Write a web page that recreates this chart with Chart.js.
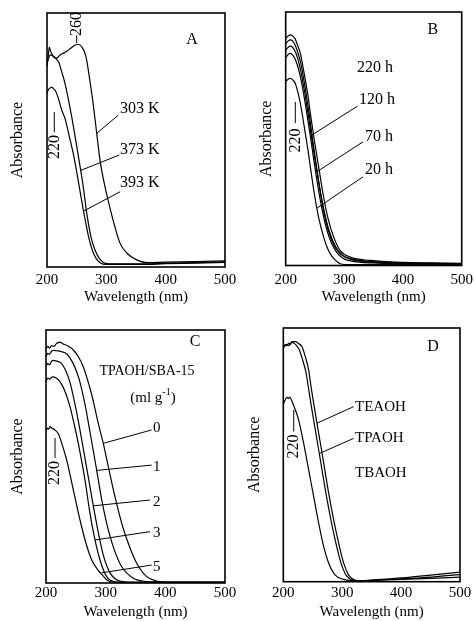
<!DOCTYPE html>
<html>
<head>
<meta charset="utf-8">
<script src="https://cdn.jsdelivr.net/npm/chart.js@4.4.1/dist/chart.umd.min.js"></script>
<style>
  html, body { margin: 0; padding: 0; background: #fff; }
  body { width: 474px; height: 621px; position: relative; overflow: hidden; }
  canvas { position: absolute; }
</style>
</head>
<body>
<canvas id="panelA" width="237" height="310" style="left:0;top:0"></canvas>
<canvas id="panelB" width="237" height="310" style="left:237px;top:0"></canvas>
<canvas id="panelC" width="237" height="311" style="left:0;top:310px"></canvas>
<canvas id="panelD" width="237" height="311" style="left:237px;top:310px"></canvas>
<script>
// [wavelength nm, absorbance]; absorbance in frame units (0 = bottom, 1 = top)

// A: synthesis temperature
const a303 = [[200,0.80],[203,0.825],[206,0.835],[210,0.83],[214,0.822],[218,0.825],[222,0.835],[228,0.842],[235,0.852],[242,0.865],[248,0.874],[252,0.877],[258.5,0.867],[265.7,0.828],[271.3,0.749],[277,0.657],[283.8,0.526],[289.3,0.421],[297.8,0.315],[306.2,0.232],[314.6,0.157],[323,0.094],[334.3,0.055],[351.2,0.028],[368,0.017],[400,0.019],[450,0.021],[500,0.024]];
const a373 = [[200,0.79],[202,0.83],[204,0.866],[206,0.85],[209,0.835],[213,0.826],[216.3,0.818],[220,0.805],[224,0.775],[230.3,0.723],[236,0.66],[241.6,0.592],[251.1,0.461],[260.2,0.33],[267.9,0.198],[274,0.12],[280.9,0.067],[288,0.035],[295,0.018],[305,0.012],[360,0.012],[400,0.015],[450,0.017],[500,0.02]];
const a393 = [[200,0.685],[203,0.70],[206,0.706],[208,0.708],[211,0.702],[214,0.695],[219,0.665],[224.8,0.618],[230.3,0.585],[238,0.51],[244.4,0.445],[250,0.375],[255.6,0.30],[264,0.19],[270,0.12],[277,0.062],[283,0.033],[289.3,0.017],[300,0.01],[360,0.01],[400,0.013],[450,0.015],[500,0.018]];

// B: crystallization time
const b220 = [[200,0.895],[204,0.905],[208,0.91],[212,0.905],[216,0.895],[220,0.87],[225,0.837],[229,0.79],[233.5,0.731],[238,0.67],[242,0.60],[248.8,0.494],[256.2,0.389],[263.6,0.283],[271.6,0.191],[281.8,0.112],[293,0.059],[310,0.033],[344,0.02],[400,0.012],[450,0.01],[500,0.008]];
const b120 = [[200,0.875],[204,0.885],[208,0.89],[212,0.885],[216,0.87],[220,0.845],[225,0.805],[230,0.745],[235,0.675],[240,0.598],[244.8,0.515],[250,0.43],[256,0.335],[262,0.248],[270,0.16],[280,0.09],[292,0.048],[310,0.027],[344,0.016],[400,0.01],[500,0.007]];
const b70 = [[200,0.85],[204,0.86],[208,0.865],[212,0.86],[216,0.845],[220,0.82],[225,0.775],[230,0.715],[236,0.63],[242,0.54],[248,0.445],[253.3,0.37],[260,0.28],[267,0.20],[275,0.13],[285,0.075],[297,0.04],[315,0.022],[350,0.013],[400,0.009],[500,0.006]];
const bOther = [[200,0.82],[204,0.832],[208,0.837],[212,0.83],[216,0.815],[220,0.79],[225,0.745],[230,0.685],[236,0.60],[242,0.51],[248,0.415],[254,0.325],[260,0.245],[267,0.168],[275,0.105],[285,0.058],[297,0.03],[315,0.016],[350,0.01],[400,0.007],[500,0.005]];
const b20 = [[200,0.725],[204,0.735],[208,0.738],[212,0.732],[216,0.72],[220,0.69],[225,0.64],[229,0.585],[233.5,0.52],[238,0.455],[242,0.389],[248.8,0.283],[256,0.191],[264.7,0.112],[270,0.075],[276,0.046],[285,0.02],[293,0.007],[300,0.004],[400,0.004],[500,0.004]];

// C: TPAOH/SBA-15 ratio (ml g-1)
const c0 = [[200,0.925],[203,0.935],[206,0.928],[209,0.938],[213,0.935],[217,0.945],[220,0.95],[224,0.952],[228,0.946],[234,0.94],[240,0.932],[245.8,0.921],[254,0.895],[262.5,0.855],[270,0.80],[276.6,0.745],[282,0.69],[287.6,0.631],[296,0.552],[304.4,0.46],[315.6,0.341],[326.9,0.236],[337.9,0.157],[352,0.078],[368.8,0.025],[385,0.008],[400,0.004],[500,0.003]];
const c1 = [[200,0.895],[203,0.908],[206,0.904],[209,0.915],[213,0.92],[218,0.918],[225,0.915],[235,0.905],[245,0.87],[255,0.81],[265,0.71],[275,0.58],[285,0.445],[293.3,0.33],[301.7,0.236],[312.8,0.143],[326.9,0.064],[346.3,0.019],[368.8,0.006],[400,0.003],[500,0.003]];
const c2 = [[200,0.855],[203,0.868],[206,0.862],[209,0.875],[212,0.88],[218,0.877],[225,0.87],[232,0.845],[240,0.795],[250,0.69],[260,0.565],[270,0.43],[279.3,0.305],[287.6,0.20],[296,0.11],[307.3,0.04],[324,0.008],[350,0.003],[500,0.003]];
const c3 = [[200,0.795],[203,0.81],[206,0.805],[209,0.813],[212,0.815],[217,0.81],[222,0.80],[226.3,0.785],[233,0.75],[240.2,0.697],[247,0.63],[254.1,0.552],[265.4,0.407],[273.7,0.275],[282.1,0.17],[290.5,0.091],[301.7,0.025],[315.6,0.005],[350,0.003],[500,0.003]];
const c5 = [[200,0.60],[202,0.612],[204,0.608],[206.7,0.618],[210,0.612],[215,0.605],[220.6,0.59],[227,0.548],[234.7,0.486],[245.8,0.368],[257,0.249],[267,0.157],[276.6,0.091],[287.6,0.05],[295,0.03],[302,0.012],[312,0.004],[350,0.003],[500,0.003]];

// D: template
const dTEAOH = [[200,0.925],[203,0.935],[206,0.93],[209,0.94],[212,0.935],[215,0.945],[218,0.946],[220.4,0.946],[225,0.94],[231.7,0.926],[237,0.89],[243.1,0.834],[247,0.77],[251.6,0.703],[260.1,0.585],[268.6,0.467],[277.1,0.348],[285.6,0.243],[294.1,0.151],[302.5,0.073],[311,0.026],[319.5,0.009],[330,0.004],[360,0.008],[400,0.015],[450,0.026],[500,0.038]];
const dTPAOH = [[200,0.92],[203,0.93],[206,0.935],[209,0.93],[212,0.94],[215,0.945],[218,0.94],[222,0.932],[227,0.915],[232,0.88],[238.5,0.825],[243,0.76],[247,0.70],[255.5,0.583],[264,0.465],[272.5,0.347],[281,0.242],[289.5,0.15],[298,0.073],[306.5,0.026],[315,0.009],[325,0.004],[360,0.006],[400,0.011],[450,0.018],[500,0.028]];
const dTBAOH = [[200,0.70],[203,0.715],[206.3,0.727],[209,0.722],[211,0.728],[214.8,0.71],[220,0.68],[226.1,0.637],[234.6,0.545],[243.1,0.44],[251.6,0.335],[260.1,0.23],[268.6,0.138],[277.1,0.073],[288.3,0.026],[302.5,0.009],[320,0.004],[360,0.006],[400,0.009],[450,0.013],[500,0.018]];

const xTicks = [200, 300, 400, 500];

const FONT = 'Liberation Serif';

// annotation plugin: frame, leaders, labels (positions in data units)
function notes(spec) {
  return {
    id: 'notes',
    afterDatasetsDraw(chart) {
      const { ctx, chartArea: a, scales: { x, y } } = chart;
      const px = v => x.getPixelForValue(v);
      const py = v => y.getPixelForValue(v);
      ctx.save();
      ctx.strokeStyle = '#000';
      ctx.fillStyle = '#000';
      ctx.lineWidth = 1.6;
      ctx.strokeRect(a.left, a.top, a.right - a.left, a.bottom - a.top);

      ctx.lineWidth = 1;
      (spec.leaders || []).forEach(([x1, y1, x2, y2]) => {
        ctx.beginPath();
        ctx.moveTo(px(x1), py(y1));
        ctx.lineTo(px(x2), py(y2));
        ctx.stroke();
      });
      (spec.dashes || []).forEach(([xv, y1, y2]) => {
        ctx.beginPath();
        ctx.moveTo(px(xv), py(y1));
        ctx.lineTo(px(xv), py(y2));
        ctx.stroke();
      });

      ctx.textBaseline = 'middle';
      (spec.labels || []).forEach(l => {
        ctx.font = (l.size || 16) + 'px "' + FONT + '"';
        ctx.textAlign = l.align || 'left';
        ctx.fillText(l.text, px(l.x), py(l.y));
      });
      (spec.vlabels || []).forEach(l => {
        ctx.save();
        ctx.translate(px(l.x), py(l.y));
        ctx.rotate(-Math.PI / 2);
        ctx.font = '16px "' + FONT + '"';
        ctx.textAlign = 'center';
        ctx.fillText(l.text, 0, 0);
        ctx.restore();
      });
      // "(ml g-1)" with superscript
      if (spec.unit) {
        const u = spec.unit;
        const big = '15px "' + FONT + '"', small = '10px "' + FONT + '"';
        ctx.font = big; const w1 = ctx.measureText(u.base).width; const w3 = ctx.measureText(u.close).width;
        ctx.font = small; const w2 = ctx.measureText(u.sup).width;
        let cx = px(u.x) - (w1 + w2 + w3) / 2;
        const cy = py(u.y);
        ctx.textAlign = 'left';
        ctx.font = big; ctx.fillText(u.base, cx, cy); cx += w1;
        ctx.font = small; ctx.fillText(u.sup, cx, cy - 6); cx += w2;
        ctx.font = big; ctx.fillText(u.close, cx, cy);
      }
      ctx.restore();
    }
  };
}

function makePanel(id, series, box, spec) {
  new Chart(document.getElementById(id), {
    type: 'line',
    data: {
      datasets: series.map(s => ({
        label: s.label,
        data: s.data.map(([x, y]) => ({ x, y })),
        borderColor: '#000',
        borderWidth: 1.2,
        pointRadius: 0,
        fill: false,
        cubicInterpolationMode: 'monotone'
      }))
    },
    plugins: [notes(spec)],
    options: {
      responsive: false,
      animation: false,
      layout: { padding: { top: box.top, right: box.right, left: 0, bottom: 0 } },
      plugins: { legend: { display: false }, tooltip: { enabled: false } },
      scales: {
        x: {
          type: 'linear',
          min: 200, max: 500,
          afterBuildTicks: axis => { axis.ticks = xTicks.map(v => ({ value: v })); },
          afterFit: axis => {
            axis.height = box.xHeight;
            // edge labels fit inside the padding already given
            axis.paddingLeft = 0;
            axis.paddingRight = 0;
          },
          grid: { display: false, drawTicks: false },
          border: { display: false },
          ticks: { color: '#000', padding: box.tickPad, maxRotation: 0, font: { family: FONT, size: 15, lineHeight: 1 } },
          title: { display: true, text: 'Wavelength (nm)', color: '#000', padding: { top: 0, bottom: box.titlePad }, font: { family: FONT, size: 15, lineHeight: 1 } }
        },
        y: {
          min: 0, max: 1,
          afterFit: axis => { axis.width = box.yWidth; },
          grid: { display: false, drawTicks: false },
          border: { display: false },
          ticks: { display: false },
          title: { display: true, text: 'Absorbance', color: '#000', padding: { top: box.yTitlePad, bottom: 0 }, font: { family: FONT, size: 16, lineHeight: 1 } }
        }
      }
    }
  });
}

makePanel('panelA', [
  { label: '303 K', data: a303 },
  { label: '373 K', data: a373 },
  { label: '393 K', data: a393 }
], { yWidth: 47, top: 13, right: 12, xHeight: 43, tickPad: 5.5, titlePad: 5.5, yTitlePad: 10 }, {
  labels: [
    { text: 'A', x: 444.4, y: 0.894, align: 'center' },
    { text: '303 K', x: 323, y: 0.622 },
    { text: '373 K', x: 323, y: 0.461 },
    { text: '393 K', x: 323, y: 0.331 }
  ],
  leaders: [[283.8, 0.526, 320.2, 0.598], [256.5, 0.38, 321.9, 0.441], [261.5, 0.22, 323, 0.296]],
  vlabels: [{ text: '260', x: 250, y: 0.957 }, { text: '220', x: 212.3, y: 0.472 }],
  dashes: [[250, 0.882, 0.912], [212.3, 0.531, 0.61]]
});

makePanel('panelB', [
  { label: '220 h', data: b220 },
  { label: '120 h', data: b120 },
  { label: '70 h', data: b70 },
  { label: '', data: bOther },
  { label: '20 h', data: b20 }
], { yWidth: 48.7, top: 12, right: 12.3, xHeight: 44.5, tickPad: 7, titlePad: 5.5, yTitlePad: 22 }, {
  labels: [
    { text: 'B', x: 451, y: 0.929, align: 'center' },
    { text: '220 h', x: 321.5, y: 0.779 },
    { text: '120 h', x: 325, y: 0.653 },
    { text: '70 h', x: 335, y: 0.507 },
    { text: '20 h', x: 335, y: 0.377 }
  ],
  leaders: [[244.8, 0.515, 322.7, 0.629], [253.3, 0.37, 331.8, 0.488], [253.3, 0.226, 331.8, 0.35]],
  vlabels: [{ text: '220', x: 216.4, y: 0.493 }],
  dashes: [[216.4, 0.562, 0.645]]
});

makePanel('panelC', [
  { label: '0', data: c0 },
  { label: '1', data: c1 },
  { label: '2', data: c2 },
  { label: '3', data: c3 },
  { label: '5', data: c5 }
], { yWidth: 46, top: 20, right: 12, xHeight: 38, tickPad: 2.5, titlePad: 1.5, yTitlePad: 10 }, {
  labels: [
    { text: 'C', x: 449.7, y: 0.954, align: 'center' },
    { text: 'TPAOH/SBA-15', x: 369.3, y: 0.835, align: 'center', size: 14 },
    { text: '0', x: 385.5, y: 0.611, align: 'center', size: 15 },
    { text: '1', x: 385.5, y: 0.46, align: 'center', size: 15 },
    { text: '2', x: 385.5, y: 0.321, align: 'center', size: 15 },
    { text: '3', x: 385.5, y: 0.199, align: 'center', size: 15 },
    { text: '5', x: 385.5, y: 0.064, align: 'center', size: 15 }
  ],
  unit: { base: '(ml g', sup: '-1', close: ')', x: 379.3, y: 0.731 },
  leaders: [[296, 0.552, 377.1, 0.605], [285, 0.445, 377.1, 0.466], [279.3, 0.305, 374.3, 0.328], [282.1, 0.17, 374.3, 0.203], [293, 0.04, 377.1, 0.071]],
  vlabels: [{ text: '220', x: 215.1, y: 0.435 }],
  dashes: [[215.1, 0.494, 0.573]]
});

makePanel('panelD', [
  { label: 'TEAOH', data: dTEAOH },
  { label: 'TPAOH', data: dTPAOH },
  { label: 'TBAOH', data: dTBAOH }
], { yWidth: 46.3, top: 18, right: 14, xHeight: 39.3, tickPad: 3.8, titlePad: 1.5, yTitlePad: 10 }, {
  labels: [
    { text: 'D', x: 454.2, y: 0.924, align: 'center' },
    { text: 'TEAOH', x: 321.7, y: 0.687, size: 15 },
    { text: 'TPAOH', x: 321.7, y: 0.565, size: 15 },
    { text: 'TBAOH', x: 321.7, y: 0.43, size: 15 }
  ],
  leaders: [[257.2, 0.625, 319.5, 0.69], [261, 0.505, 319.5, 0.565]],
  vlabels: [{ text: '220', x: 217.7, y: 0.533 }],
  dashes: [[217.7, 0.592, 0.677]]
});
</script>
</body>
</html>
